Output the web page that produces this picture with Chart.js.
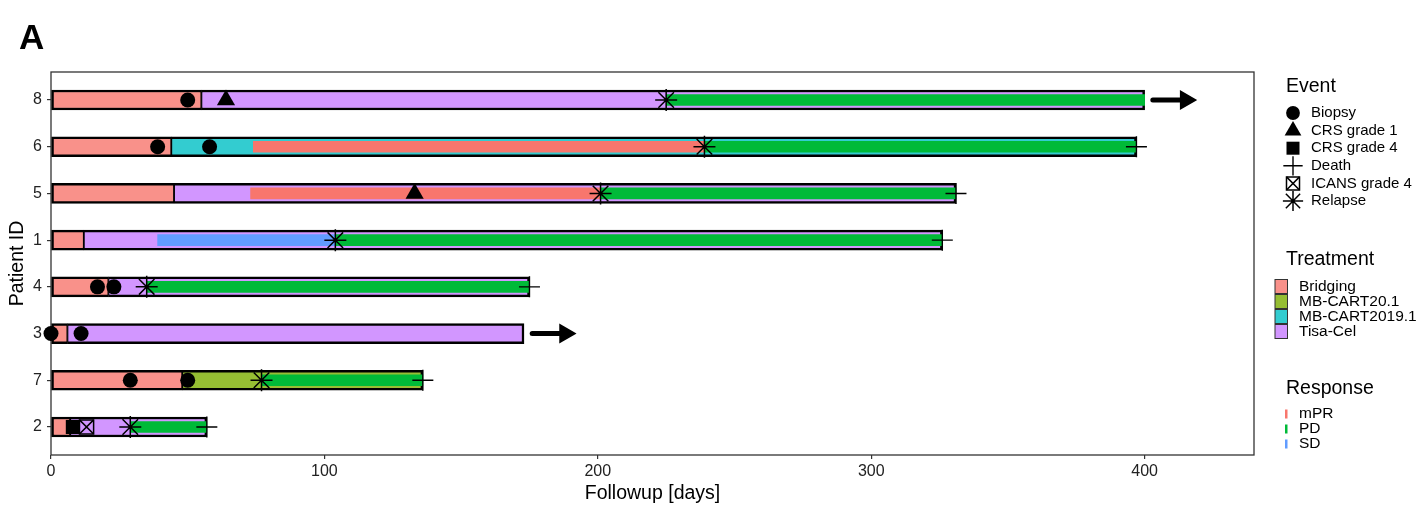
<!DOCTYPE html>
<html>
<head>
<meta charset="utf-8">
<script src="https://cdn.jsdelivr.net/npm/chart.js"></script>
<style>
  html, body { margin: 0; padding: 0; background: #ffffff; }
  #wrap { position: relative; width: 1425px; height: 508px; font-family: "Liberation Sans", Arial, sans-serif; }
  #c { position: absolute; left: 0; top: 0; }
  #tag { position: absolute; left: 19px; top: 19px; font-size: 35px; line-height: 35px; font-weight: bold; color: #000; }
</style>
</head>
<body>
<div id="wrap">
  <canvas id="c" width="1425" height="508"></canvas>
  <div id="tag">A</div>
</div>
<script>
// ---------------- DATA ----------------
const patients = ['8', '6', '5', '1', '4', '3', '7', '2'];
const bridgingEnd = [55, 44, 45, 12, 21, 6, 48, 7];
const followupEnd = [400, 397, 331, 326, 175, 173, 136, 57];
const carTProduct = ['Tisa-Cel', 'MB-CART2019.1', 'Tisa-Cel', 'Tisa-Cel', 'Tisa-Cel', 'Tisa-Cel', 'MB-CART20.1', 'Tisa-Cel'];
const ongoingPatients = ['8', '3'];

const treatmentNames = ['Bridging', 'MB-CART20.1', 'MB-CART2019.1', 'Tisa-Cel'];
const responseNames = ['mPR', 'PD', 'SD'];
const eventNames = ['Biopsy', 'CRS grade 1', 'CRS grade 4', 'Death', 'ICANS grade 4', 'Relapse'];

const responsePatient = ['8', '6', '6', '5', '5', '1', '1', '4', '7', '2'];
const responseType = ['PD', 'mPR', 'PD', 'mPR', 'PD', 'SD', 'PD', 'PD', 'PD', 'PD'];
const responseStart = [225, 74, 239, 73, 201, 39, 104, 35, 77, 29];
const responseEnd = [400, 239, 397, 201, 331, 104, 326, 175, 136, 57];

const eventPatient = ['8', '8', '8', '6', '6', '6', '6', '5', '5', '5', '1', '1', '4', '4', '4', '4', '3', '3', '7', '7', '7', '7', '2', '2', '2', '2'];
const eventType = ['Biopsy', 'CRS grade 1', 'Relapse', 'Biopsy', 'Biopsy', 'Relapse', 'Death', 'CRS grade 1', 'Relapse', 'Death', 'Relapse', 'Death', 'Biopsy', 'Biopsy', 'Relapse', 'Death', 'Biopsy', 'Biopsy', 'Biopsy', 'Biopsy', 'Relapse', 'Death', 'CRS grade 4', 'ICANS grade 4', 'Relapse', 'Death'];
const eventDay = [50, 64, 225, 39, 58, 239, 397, 133, 201, 331, 104, 326, 17, 23, 35, 175, 0, 11, 29, 50, 77, 136, 8, 13, 29, 57];

const xTicks = [0, 100, 200, 300, 400];

// ---------------- STYLES ----------------
const FONT = '"Liberation Sans", Arial, sans-serif';
const treatmentColor = { 'Bridging': '#F9918A', 'MB-CART20.1': '#96BE33', 'MB-CART2019.1': '#33CCD0', 'Tisa-Cel': '#D296FF' };
const responseColor = { 'mPR': '#F8766D', 'PD': '#00BA38', 'SD': '#619CFF' };
const eventStyle = {
  'Biopsy':        [{ pointStyle: 'circle', radius: 7.5, bg: '#000', bc: '#000', bw: 0 }],
  'CRS grade 1':   [{ pointStyle: 'triangle', radius: 10.5, bg: '#000', bc: '#000', bw: 0 }],
  'CRS grade 4':   [{ pointStyle: 'rect', radius: 10, bg: '#000', bc: '#000', bw: 0 }],
  'Death':         [{ pointStyle: 'cross', radius: 10.5, bg: 'rgba(0,0,0,0)', bc: '#000', bw: 1.4 }],
  'ICANS grade 4': [{ pointStyle: 'rect', radius: 10, bg: 'rgba(0,0,0,0)', bc: '#000', bw: 1.5 },
                    { pointStyle: 'crossRot', radius: 10, bg: 'rgba(0,0,0,0)', bc: '#000', bw: 1.5 }],
  'Relapse':       [{ pointStyle: 'star', radius: 11, bg: 'rgba(0,0,0,0)', bc: '#000', bw: 1.5 }]
};

const pos = p => patients.length - patients.indexOf(p);

// ---------------- DATASETS ----------------
const datasets = [];

// treatment segments
datasets.push({
  type: 'bar', label: 'Bridging', indexAxis: 'y',
  data: patients.map((p, i) => ({ x: [0, bridgingEnd[i]], y: pos(p) })),
  backgroundColor: treatmentColor['Bridging'], borderColor: '#000',
  borderWidth: { top: 2.5, bottom: 2.5, left: 2.5, right: 1.25 }, borderSkipped: false,
  barThickness: 20, grouped: false, order: 10
});
treatmentNames.slice(1).forEach(name => {
  const data = [];
  patients.forEach((p, i) => { if (carTProduct[i] === name) data.push({ x: [bridgingEnd[i], followupEnd[i]], y: pos(p) }); });
  datasets.push({
    type: 'bar', label: name, indexAxis: 'y', data,
    backgroundColor: treatmentColor[name], borderColor: '#000',
    borderWidth: { top: 2.5, bottom: 2.5, left: 1.25, right: 2.5 }, borderSkipped: false,
    barThickness: 20, grouped: false, order: 10
  });
});

// response segments
responseNames.forEach(name => {
  const data = [];
  responseType.forEach((t, i) => { if (t === name) data.push({ x: [responseStart[i], responseEnd[i]], y: pos(responsePatient[i]) }); });
  datasets.push({
    type: 'bar', label: name, indexAxis: 'y', data,
    backgroundColor: responseColor[name], borderWidth: 0,
    barThickness: 11, grouped: false, order: 5
  });
});

// events
eventNames.forEach(name => {
  const data = [];
  eventType.forEach((t, i) => { if (t === name) data.push({ x: eventDay[i], y: pos(eventPatient[i]) }); });
  eventStyle[name].forEach(st => {
    datasets.push({
      type: 'scatter', label: name, data, showLine: false, clip: false,
      pointStyle: st.pointStyle, pointRadius: st.radius,
      pointBackgroundColor: st.bg, pointBorderColor: st.bc, pointBorderWidth: st.bw,
      order: 1
    });
  });
});

// ongoing arrows
const ARROW_GAP = 3, ARROW_HEAD = 15;
ongoingPatients.forEach(p => {
  const i = patients.indexOf(p);
  datasets.push({
    type: 'line', label: 'ongoing ' + p,
    data: [{ x: followupEnd[i] + ARROW_GAP, y: pos(p) }, { x: followupEnd[i] + ARROW_HEAD, y: pos(p) }],
    borderColor: '#000', borderWidth: 5, borderCapStyle: 'round', clip: false,
    pointStyle: 'triangle', pointRotation: 90,
    pointRadius: ctx => ctx.dataIndex === 1 ? 10 : 0,
    pointBackgroundColor: '#000', pointBorderColor: '#000', pointBorderWidth: 1.5, order: 0
  });
});

// ---------------- PLUGINS ----------------
const panelBorder = {
  id: 'panelBorder',
  beforeDatasetsDraw(chart) {
    const { ctx, chartArea: a } = chart;
    ctx.save();
    ctx.strokeStyle = '#333';
    ctx.lineWidth = 1.3;
    ctx.strokeRect(a.left, a.top, a.right - a.left, a.bottom - a.top);
    ctx.restore();
  }
};

function drawIcon(ctx, st, x, y) {
  ctx.save();
  ctx.fillStyle = st.bg; ctx.strokeStyle = st.bc; ctx.lineWidth = st.bw;
  const r = st.radius;
  ctx.beginPath();
  if (st.pointStyle === 'circle') {
    ctx.arc(x, y, r, 0, Math.PI * 2);
  } else if (st.pointStyle === 'triangle') {
    ctx.moveTo(x, y - r);
    ctx.lineTo(x + Math.sin(2 * Math.PI / 3) * r, y - Math.cos(2 * Math.PI / 3) * r);
    ctx.lineTo(x + Math.sin(4 * Math.PI / 3) * r, y - Math.cos(4 * Math.PI / 3) * r);
    ctx.closePath();
  } else if (st.pointStyle === 'rect') {
    const s = r * Math.SQRT1_2;
    ctx.rect(x - s, y - s, 2 * s, 2 * s);
  } else if (st.pointStyle === 'cross') {
    ctx.moveTo(x - r, y); ctx.lineTo(x + r, y); ctx.moveTo(x, y - r); ctx.lineTo(x, y + r);
  } else if (st.pointStyle === 'crossRot') {
    const s = r * Math.SQRT1_2;
    ctx.moveTo(x - s, y - s); ctx.lineTo(x + s, y + s); ctx.moveTo(x - s, y + s); ctx.lineTo(x + s, y - s);
  } else if (st.pointStyle === 'star') {
    const s = r * Math.SQRT1_2;
    ctx.moveTo(x - r, y); ctx.lineTo(x + r, y); ctx.moveTo(x, y - r); ctx.lineTo(x, y + r);
    ctx.moveTo(x - s, y - s); ctx.lineTo(x + s, y + s); ctx.moveTo(x - s, y + s); ctx.lineTo(x + s, y - s);
  }
  ctx.fill();
  if (st.bw > 0) ctx.stroke();
  ctx.restore();
}

const sideLegend = {
  id: 'sideLegend',
  afterDraw(chart) {
    const ctx = chart.ctx;
    ctx.save();
    ctx.fillStyle = '#000';
    ctx.textAlign = 'left';
    ctx.textBaseline = 'middle';
    // Event
    ctx.font = '19.5px ' + FONT;
    ctx.fillText('Event', 1286, 87);
    ctx.font = '15px ' + FONT;
    eventNames.forEach((name, k) => {
      const y = 113 + k * 17.6;
      eventStyle[name].forEach(st => {
        const small = Object.assign({}, st, { radius: st.radius * 0.92 });
        drawIcon(ctx, small, 1293, y);
      });
      ctx.fillStyle = '#000';
      ctx.fillText(name, 1311, y);
    });
    // Treatment
    ctx.font = '19.5px ' + FONT;
    ctx.fillText('Treatment', 1286, 260);
    ctx.font = '15.5px ' + FONT;
    treatmentNames.forEach((name, k) => {
      const y = 286.5 + k * 15;
      ctx.fillStyle = treatmentColor[name];
      ctx.fillRect(1275, y - 7, 12.5, 14);
      ctx.strokeStyle = '#333'; ctx.lineWidth = 1;
      ctx.strokeRect(1275, y - 7, 12.5, 14);
      ctx.fillStyle = '#000';
      ctx.fillText(name, 1299, y);
    });
    // Response
    ctx.font = '19.5px ' + FONT;
    ctx.fillText('Response', 1286, 389);
    ctx.font = '15.5px ' + FONT;
    responseNames.forEach((name, k) => {
      const y = 414 + k * 15;
      ctx.fillStyle = responseColor[name];
      ctx.fillRect(1285, y - 4.5, 2.5, 9);
      ctx.fillStyle = '#000';
      ctx.fillText(name, 1299, y);
    });
    ctx.restore();
  }
};

// ---------------- CHART ----------------
Chart.defaults.font.family = FONT;
new Chart(document.getElementById('c'), {
  type: 'bar',
  data: { datasets },
  options: {
    responsive: false,
    animation: false,
    indexAxis: 'y',
    events: [],
    layout: { padding: { left: 0, top: 72, right: 171, bottom: 0 } },
    plugins: { legend: { display: false }, tooltip: { enabled: false }, title: { display: false } },
    scales: {
      x: {
        type: 'linear', min: 0, max: 440, offset: false,
        afterBuildTicks: s => { s.ticks = xTicks.map(v => ({ value: v })); },
        afterFit: s => { s.height = 53; },
        ticks: { font: { size: 16 }, color: '#222', padding: 3, maxRotation: 0, autoSkip: false },
        grid: { display: true, offset: false, drawOnChartArea: false, drawTicks: true, tickLength: 4, color: '#333', lineWidth: 1.2 },
        border: { display: false },
        title: { display: true, text: 'Followup [days]', font: { size: 19.5 }, color: '#000', padding: { top: 2, bottom: 3 } }
      },
      y: {
        type: 'linear', min: 0.4, max: 8.6, offset: false,
        afterBuildTicks: s => { s.ticks = patients.map(p => ({ value: pos(p) })); },
        afterFit: s => { s.width = 51; },
        ticks: { callback: v => patients[patients.length - v], font: { size: 16 }, color: '#222', padding: 5, autoSkip: false },
        grid: { display: true, offset: false, drawOnChartArea: false, drawTicks: true, tickLength: 4, color: '#333', lineWidth: 1.2 },
        border: { display: false },
        title: { display: true, text: 'Patient ID', font: { size: 19.5 }, color: '#000', padding: { top: 6, bottom: 0 } }
      }
    }
  },
  plugins: [panelBorder, sideLegend]
});
</script>
</body>
</html>
